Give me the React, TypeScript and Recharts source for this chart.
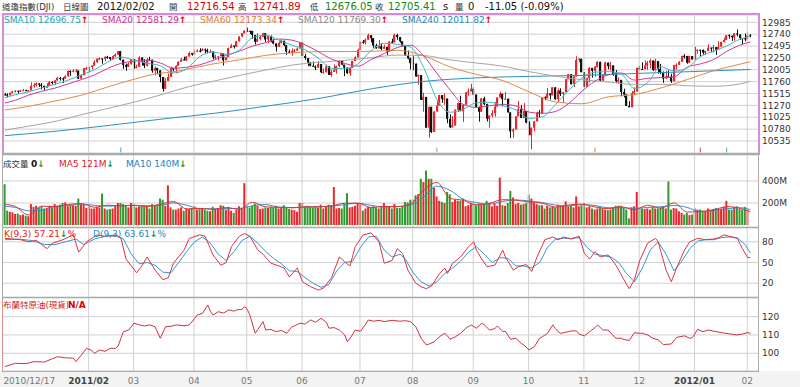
import React from "react";
import {
  ComposedChart,
  Bar,
  Line,
  XAxis,
  YAxis,
  CartesianGrid,
  ReferenceLine,
  Cell,
} from "recharts";

// daily candles [open, high, low, close], 2010/12/17 .. 2012/02/02
const candles: number[][] = [
  [11499,11523,11470,11492],[11492,11520,11440,11478],[11478,11536,11478,11533],[11533,11563,11520,11559],[11559,11580,11537,11573],
  [11573,11573,11509,11555],[11555,11594,11547,11575],[11575,11611,11575,11585],[11585,11595,11560,11569],[11569,11587,11543,11578],
  [11578,11743,11578,11671],[11671,11732,11635,11691],[11691,11743,11658,11722],[11722,11730,11650,11697],[11697,11728,11599,11675],
  [11675,11675,11587,11637],[11637,11727,11637,11671],[11671,11770,11671,11755],[11755,11769,11700,11732],[11732,11787,11700,11787],
  [11787,11861,11777,11837],[11837,11858,11783,11825],[11825,11848,11733,11822],[11822,11891,11822,11871],[11871,11990,11862,11980],
  [11980,11995,11880,11977],[11977,12020,11955,11985],[11985,12021,11950,11989],[11989,11989,11812,11823],[11823,11910,11823,11891],
  [11891,12042,11891,12040],[12040,12069,12008,12041],[12041,12067,11952,12062],[12062,12099,12016,12092],[12092,12201,12092,12161],
  [12161,12243,12147,12233],[12233,12262,12208,12239],[12239,12239,12130,12229],[12229,12285,12180,12273],[12273,12293,12233,12268],
  [12268,12268,12190,12226],[12226,12305,12226,12288],[12288,12344,12270,12318],[12318,12391,12313,12391],[12391,12391,12198,12212],
  [12212,12215,12022,12105],[12105,12131,11983,12068],[12068,12164,12068,12130],[12130,12227,12110,12226],[12226,12228,12026,12058],
  [12058,12111,12033,12066],[12066,12283,12066,12258],[12258,12258,12092,12170],[12170,12223,12038,12090],[12090,12250,12072,12214],
  [12214,12273,12198,12213],[12213,12213,11945,11985],[11985,12075,11891,12044],[12044,12044,11913,11993],[11993,11993,11746,11855],
  [11855,11855,11555,11613],[11613,11832,11613,11775],[11775,11927,11775,11858],[11858,12072,11858,12036],[12036,12044,11975,12018],
  [12018,12097,11935,12086],[12086,12175,12086,12171],[12171,12249,12171,12220],[12220,12275,12197,12198],[12198,12288,12182,12279],
  [12279,12380,12279,12350],[12350,12350,12297,12320],[12320,12419,12320,12376],[12376,12425,12369,12400],[12400,12450,12364,12393],
  [12393,12451,12393,12426],[12426,12445,12339,12409],[12409,12441,12345,12380],[12380,12425,12356,12381],[12381,12381,12222,12263],
  [12263,12311,12227,12270],[12270,12285,12195,12285],[12285,12360,12285,12342],[12342,12342,12093,12202],[12202,12267,12200,12267],
  [12267,12464,12267,12453],[12453,12540,12453,12506],[12506,12506,12444,12480],[12480,12602,12480,12595],[12595,12697,12589,12691],
  [12691,12763,12679,12763],[12763,12821,12753,12811],[12811,12876,12785,12808],[12808,12814,12741,12807],[12807,12807,12644,12724],
  [12724,12724,12526,12584],[12584,12763,12584,12639],[12639,12703,12615,12685],[12685,12768,12685,12760],[12760,12760,12581,12630],
  [12630,12707,12556,12696],[12696,12715,12574,12596],[12596,12644,12531,12548],[12548,12548,12381,12479],[12479,12592,12479,12561],
  [12561,12632,12549,12605],[12605,12605,12493,12513],[12513,12513,12310,12381],[12381,12421,12349,12356],[12356,12446,12293,12395],
  [12395,12434,12356,12403],[12403,12463,12403,12442],[12442,12578,12442,12570],[12570,12570,12283,12290],[12290,12333,12211,12248],
  [12248,12248,12080,12151],[12151,12168,12074,12090],[12090,12177,12070,12070],[12070,12094,11998,12049],[12049,12184,12049,12124],
  [12124,12124,11939,11952],[11952,12029,11929,11953],[11953,12111,11953,12076],[12076,12076,11897,11898],[11898,11999,11862,11962],
  [11962,12117,11962,12004],[12004,12092,11924,12081],[12081,12203,12057,12191],[12191,12191,12109,12110],[12110,12110,11874,12050],
  [12050,12052,11916,11934],[11934,12065,11884,12043],[12043,12189,12043,12188],[12188,12284,12188,12262],[12262,12443,12262,12414],
  [12414,12588,12412,12582],[12582,12619,12546,12569],[12569,12652,12530,12626],[12626,12753,12626,12719],[12719,12719,12569,12657],
  [12657,12657,12458,12505],[12505,12544,12441,12446],[12446,12620,12446,12492],[12492,12555,12406,12437],[12437,12523,12437,12479],
  [12479,12480,12311,12385],[12385,12591,12385,12587],[12587,12648,12557,12571],[12571,12751,12571,12724],[12724,12750,12625,12681],
  [12681,12681,12563,12592],[12592,12592,12489,12501],[12501,12501,12288,12302],[12302,12405,12222,12240],[12240,12254,12011,12143],
  [12143,12285,11994,12132],[12132,12132,11866,11866],[11866,11904,11700,11896],[11896,11896,11383,11384],[11384,11530,11139,11445],
  [11445,11445,10810,10810],[10810,11244,10604,11240],[11240,11240,10700,10720],[10720,11148,10720,11143],[11143,11353,11139,11269],
  [11269,11489,11269,11482],[11482,11482,11320,11406],[11406,11519,11285,11411],[11411,11411,10901,10991],[10991,11087,10803,10818],
  [10818,11052,10816,10855],[10855,11188,10855,11177],[11177,11330,11134,11320],[11320,11471,11149,11150],[11150,11286,10929,11285],
  [11285,11540,11285,11540],[11540,11618,11471,11560],[11560,11716,11560,11614],[11614,11652,11474,11494],[11494,11494,11231,11240],
  [11240,11240,10935,11140],[11140,11415,11140,11415],[11415,11450,11277,11296],[11296,11304,10937,10993],[10993,11063,10816,11062],
  [11062,11171,11025,11106],[11106,11340,11037,11247],[11247,11434,11247,11434],[11434,11553,11434,11510],[11510,11510,11251,11402],
  [11402,11548,11384,11409],[11409,11409,11125,11125],[11125,11125,10597,10734],[10734,10798,10598,10772],[10772,11044,10772,11044],
  [11044,11362,11044,11191],[11191,11276,11009,11011],[11011,11316,11011,11154],[11154,11154,10899,10913],[10913,10943,10655,10655],
  [10655,10813,10362,10809],[10809,10953,10738,10940],[10940,11137,10940,11123],[11123,11178,11016,11103],[11103,11433,11103,11433],
  [11433,11458,11375,11416],[11416,11629,11416,11519],[11519,11519,11391,11478],[11478,11644,11478,11644],[11644,11644,11382,11397],
  [11397,11621,11337,11577],[11577,11624,11463,11505],[11505,11547,11319,11541],[11541,11818,11541,11809],[11809,11916,11809,11913],
  [11913,11913,11703,11706],[11706,11874,11648,11869],[11869,12284,11869,12209],[12209,12247,12164,12231],[12231,12231,11955,11955],
  [11955,11955,11643,11658],[11658,11843,11658,11836],[11836,12057,11742,12044],[12044,12044,11843,11983],[11983,12082,11865,12069],
  [12069,12186,12049,12170],[12170,12170,11771,11781],[11781,11918,11781,11894],[11894,12172,11894,12153],[12153,12153,12013,12079],
  [12079,12168,11988,12096],[12096,12096,11880,11906],[11906,12000,11738,11770],[11770,11846,11716,11796],[11796,11796,11458,11547],
  [11547,11614,11434,11494],[11494,11494,11257,11257],[11257,11358,11231,11231],[11231,11565,11231,11523],[11523,11642,11493,11556],
  [11556,12046,11556,12046],[12046,12090,11993,12020],[12020,12160,12013,12019],[12019,12199,12019,12098],[12098,12185,12006,12150],
  [12150,12232,12034,12196],[12196,12196,11979,11997],[11997,12233,11997,12184],[12184,12184,11927,12021],[12021,12125,11914,11955],
  [11955,11972,11736,11823],[11823,11985,11823,11868],[11868,11992,11866,11866],[11866,11923,11736,11766],[11766,12106,11766,12103],
  [12103,12137,12007,12107],[12107,12185,12107,12169],[12169,12294,12169,12294],[12294,12330,12237,12291],[12291,12291,12130,12151],
  [12151,12295,12151,12288],[12288,12288,12217,12218],[12218,12479,12218,12397],[12397,12428,12337,12418],[12418,12418,12281,12415],
  [12415,12427,12316,12360],[12360,12398,12311,12392],[12392,12531,12392,12462],[12462,12462,12367,12449],[12449,12517,12365,12471],
  [12471,12471,12314,12422],[12422,12595,12422,12482],[12482,12588,12482,12579],[12579,12667,12571,12623],[12623,12724,12621,12720],
  [12720,12738,12648,12708],[12708,12708,12601,12675],[12675,12759,12606,12757],[12757,12841,12694,12734],[12734,12734,12621,12660],
  [12660,12660,12537,12654],[12654,12754,12595,12633],[12633,12792,12633,12717],[12717,12742,12676,12705],
];

// volume, millions
const volumes = [
  370,130,120,115,100,105,90,95,85,80, 190,165,175,160,170,150,155,175,160,190,
  175,185,200,205,170,185,180,175,240,190, 185,155,165,150,150,165,160,285,150,140,
  145,150,170,200,200,190,175,160,200,180, 160,170,175,170,165,150,190,175,185,240,
  230,175,360,160,140,140,150,160,130,150, 145,155,170,140,145,150,140,130,125,165,
  145,150,180,175,140,165,130,110,140,170, 150,380,170,160,175,195,175,145,150,160,
  155,165,160,175,150,155,180,160,145,140, 135,120,200,200,170,175,165,160,170,160,
  185,150,165,185,180,345,150,155,150,190, 290,160,165,175,200,190,130,150,165,160,
  170,160,150,165,200,165,170,150,190,155, 155,165,210,205,230,230,270,280,420,390,
  495,420,420,340,260,220,210,200,300,280, 210,230,220,220,240,170,180,200,190,180,
  195,185,190,220,200,170,195,175,430,180, 175,200,310,250,190,200,185,190,200,275,
  240,200,190,180,180,150,175,160,170,160, 185,165,175,215,170,175,160,260,170,180,
  200,160,170,150,140,150,170,150,140,135, 140,160,175,175,175,160,140,60,160,170,
  300,150,150,145,150,140,165,150,150,160, 165,150,395,140,155,150,125,110,95,110,
  90,95,150,140,140,130,120,150,140,145, 155,145,150,165,220,140,140,165,170,145,
  140,165,140,0,
];

// moving averages: [day index, value]
const sma10Pts = [[0,11423],[4,11491],[9,11550],[14,11632],[19,11704],[24,11792],[29,11900],[34,12006],[39,12164],[44,12268],[49,12202],[54,12139],[59,12089],[64,11939],[69,12025],[74,12279],[79,12370],[84,12323],[89,12409],[94,12664],[99,12721],[104,12618],[109,12513],[114,12420],[119,12244],[124,12033],[129,12028],[134,12128],[139,12399],[144,12551],[149,12531],[154,12473],[159,12050],[164,11391],[169,11129],[174,11190],[179,11324],[184,11335],[189,11261],[194,11178],[199,11001],[204,11033],[209,11286],[214,11580],[219,11832],[224,11956],[229,11967],[234,11919],[239,11618],[244,11739],[249,12069],[254,11978],[259,12044],[264,12275],[269,12387],[274,12496],[279,12636],[283,12697]];
const sma20Pts = [[0,11320],[4,11376],[9,11481],[14,11561],[19,11627],[24,11712],[29,11802],[34,11899],[39,12032],[44,12137],[49,12183],[54,12203],[59,12146],[64,12039],[69,12057],[74,12109],[79,12198],[84,12301],[89,12389],[94,12493],[99,12565],[104,12641],[109,12617],[114,12519],[119,12378],[124,12226],[129,12136],[134,12080],[139,12214],[144,12339],[149,12465],[154,12512],[159,12290],[164,11932],[169,11590],[174,11290],[179,11226],[184,11262],[189,11292],[194,11257],[199,11131],[204,11106],[209,11144],[214,11307],[219,11559],[224,11768],[229,11899],[234,11938],[239,11792],[244,11829],[249,11843],[254,11859],[259,12056],[264,12126],[269,12215],[274,12385],[279,12512],[283,12581]];
const sma60Pts = [[0,11175],[9,11250],[19,11360],[29,11480],[39,11650],[49,11810],[59,11935],[64,11962],[69,12014],[79,12125],[89,12210],[99,12303],[109,12355],[119,12380],[129,12381],[139,12386],[149,12406],[159,12294],[169,12063],[179,11910],[189,11782],[199,11549],[209,11342],[219,11305],[229,11445],[239,11494],[249,11629],[259,11802],[269,11986],[279,12120],[283,12173]];
const sma120Pts = [[0,10760],[10,10850],[20,10950],[30,11090],[40,11220],[50,11350],[60,11500],[70,11660],[80,11780],[90,11900],[100,12010],[110,12110],[119,12158],[129,12200],[139,12255],[149,12308],[159,12298],[169,12209],[179,12145],[189,12081],[199,11967],[209,11874],[219,11800],[229,11754],[239,11702],[249,11705],[259,11676],[269,11664],[279,11713],[283,11769]];
const sma240Pts = [[0,10645],[20,10740],[40,10860],[60,10990],[80,11110],[100,11260],[120,11420],[140,11620],[160,11770],[180,11840],[200,11870],[220,11890],[240,11930],[260,11966],[283,12012]];

const volMa5Pts = [[0,190],[4,167],[9,91],[14,172],[19,166],[24,187],[29,194],[34,161],[39,180],[44,173],[49,181],[54,168],[59,188],[64,213],[69,146],[74,151],[79,142],[84,158],[89,143],[94,207],[99,165],[104,161],[109,156],[114,165],[119,166],[124,173],[129,198],[134,198],[139,159],[144,169],[149,166],[154,193],[159,318],[164,387],[169,242],[174,224],[179,184],[184,198],[189,230],[194,225],[199,210],[204,198],[209,163],[214,182],[219,189],[224,164],[229,149],[234,165],[239,138],[244,179],[249,153],[254,201],[259,118],[264,123],[269,137],[274,167],[279,152],[283,121]];
const volMa10Pts = [[0,170],[4,160],[9,129],[14,132],[19,169],[24,177],[29,191],[34,178],[39,171],[44,177],[49,177],[54,175],[59,178],[64,201],[69,180],[74,149],[79,147],[84,150],[89,151],[94,175],[99,186],[104,163],[109,159],[114,161],[119,166],[124,170],[129,186],[134,198],[139,179],[144,164],[149,168],[154,180],[159,256],[164,353],[169,315],[174,233],[179,204],[184,191],[189,214],[194,228],[199,218],[204,204],[209,181],[214,173],[219,186],[224,177],[229,157],[234,157],[239,152],[244,159],[249,166],[254,177],[259,160],[264,121],[269,130],[274,147],[279,157],[283,140]];

const kPts = [[0,85],[3,84],[6,83],[9,80],[12,82],[16,70],[18,78],[22,83],[26,90],[28,65],[31,80],[35,90],[38,88],[42,90],[44,86],[46,55],[50,35],[52,45],[54,58],[57,39],[60,25],[62,28],[64,49],[68,68],[70,85],[74,90],[76,88],[79,61],[82,46],[84,50],[86,73],[89,88],[91,92],[93,88],[96,68],[98,62],[101,49],[104,45],[106,42],[108,29],[111,42],[113,22],[116,15],[119,10],[121,13],[124,28],[127,58],[129,51],[131,45],[133,73],[136,90],[139,93],[142,80],[144,49],[147,53],[149,70],[151,63],[153,39],[156,20],[158,15],[160,12],[162,16],[165,34],[167,42],[168,34],[170,49],[173,58],[176,73],[178,80],[179,68],[181,55],[183,44],[186,46],[189,68],[190,58],[193,39],[195,44],[198,47],[200,37],[202,58],[205,83],[208,87],[210,83],[212,87],[215,84],[218,88],[220,63],[222,55],[224,66],[226,58],[229,61],[232,46],[235,25],[237,12],[239,25],[241,53],[244,78],[247,85],[248,80],[251,39],[253,22],[255,42],[258,68],[260,80],[263,85],[266,83],[269,84],[271,86],[273,90],[276,87],[278,85],[280,70],[282,57],[283,57.21]];
const dPts = [[0,83],[5,84],[10,82],[15,76],[19,76],[23,80],[27,84],[30,76],[34,84],[38,88],[42,89],[45,84],[48,62],[51,48],[54,50],[57,46],[60,36],[63,35],[66,50],[69,66],[72,80],[75,87],[78,78],[81,62],[84,53],[87,66],[90,82],[93,88],[96,78],[99,66],[102,56],[105,48],[108,38],[111,37],[114,28],[117,20],[120,14],[123,18],[126,38],[129,50],[132,52],[135,72],[138,87],[141,88],[144,68],[147,58],[150,62],[152,55],[155,35],[158,22],[161,16],[164,22],[167,34],[170,42],[173,52],[176,65],[179,73],[182,62],[185,50],[188,57],[191,56],[194,45],[197,45],[200,42],[203,50],[206,72],[209,84],[212,85],[215,85],[218,86],[221,72],[224,62],[227,60],[230,58],[233,50],[236,34],[239,22],[242,42],[245,68],[248,80],[251,62],[254,38],[257,52],[260,70],[263,81],[266,83],[269,83],[272,86],[275,87],[278,86],[281,76],[283,63.61]];

// Brent spot
const oilPts = [[0,92.7],[4,94.5],[8,94.3],[11,95.4],[15,95.2],[18,97],[20,98.1],[23,97.5],[26,97.3],[27,95.4],[29,99],[31,102.7],[33,101.5],[34,100],[36,101.8],[38,101],[40,102.7],[42,102.7],[43,104],[44,108],[45,111.8],[47,112.7],[49,116.4],[51,115.5],[53,114.9],[55,115.5],[57,114.5],[59,108.2],[61,114.5],[63,114.7],[65,115.5],[68,115],[70,115.5],[72,119],[73,120.9],[75,121.8],[77,126.4],[78,123],[79,120.9],[81,122.7],[83,122],[85,123.7],[87,123],[88,123.7],[90,124],[91,125.5],[92,124],[93,120.9],[95,110.9],[96,113],[98,117.3],[99,112.7],[101,113],[103,111.8],[105,112.5],[107,110.9],[109,114.5],[110,115],[112,116.4],[114,116],[116,118.2],[118,117],[120,119.1],[122,117],[123,113.7],[125,114],[127,112.7],[129,110],[130,106.3],[131,108],[133,112.7],[135,112],[137,116],[138,118.2],[140,117.5],[142,118],[144,117.3],[147,118],[150,117.5],[152,117.8],[154,117.3],[156,114.5],[158,108.2],[160,104.5],[161,105],[163,106.3],[165,109.1],[167,110.9],[168,109.5],[169,107.6],[171,109],[173,110.9],[175,113.7],[177,115.5],[179,113.7],[181,116.4],[182,115.5],[184,112.7],[186,113.5],[187,114.9],[189,111.8],[190,112],[192,107.6],[194,108.2],[196,105.4],[197,104.5],[199,101.8],[201,103.6],[203,108.2],[204,109],[206,110.9],[208,115.5],[209,113.5],[210,111.8],[211,110.9],[213,111.5],[215,112.2],[217,112.2],[218,110.5],[220,109.5],[222,111.8],[224,114],[225,115.5],[227,112.7],[229,112.7],[230,111],[232,108.2],[234,108.2],[235,107.5],[237,107],[239,111.3],[240,111],[242,110.9],[244,110],[246,108.2],[248,107.3],[249,106],[250,104.7],[253,105.1],[255,108.7],[258,109.5],[260,108.2],[261,108.5],[263,113.1],[265,111.8],[267,112.7],[270,111.8],[272,111.3],[275,110.6],[278,110],[280,110.5],[282,111.3],[283,110.9]];

const priceTicks = [10535, 10780, 11025, 11270, 11515, 11760, 12005, 12250, 12495, 12740, 12985];
const volTicks = [200, 400];
const kdTicks = [20, 50, 80];
const oilTicks = [100, 110, 120];
const monthTicks = [31.8, 48.8, 71.8, 91.8, 112.8, 134.8, 154.8, 177.8, 198.8, 219.8, 240.8, 261.8, 281.8];
const monthLabels = ["2011/02", "03", "04", "05", "06", "07", "08", "09", "10", "11", "12", "2012/01", "02"];
const markers = [[44, "#3aaad0"], [164, "#999999"], [224, "#e08040"], [264, "#cc3399"], [274, "#33bbbb"]] as const;

const RED = "#e8262b";
const GREEN = "#2e9a2e";
const GRID = "#d0d0d0";
const FONT = "'DejaVu Sans', 'Noto Sans CJK TC', sans-serif";
const X_DOMAIN: [number, number] = [-0.72, 285.9];

const lookup = (pts: readonly (readonly number[])[]) => {
  const m = new Map<number, number>();
  pts.forEach(([i, v]) => m.set(i, v));
  return (i: number) => (m.has(i) ? (m.get(i) as number) : null);
};
const s10 = lookup(sma10Pts), s20 = lookup(sma20Pts), s60 = lookup(sma60Pts);
const s120 = lookup(sma120Pts), s240 = lookup(sma240Pts);
const vm5 = lookup(volMa5Pts), vm10 = lookup(volMa10Pts);
const kk = lookup(kPts), dd = lookup(dPts), oo = lookup(oilPts);

const rows = candles.map(([o, h, l, c], i) => ({
  i, o, c, range: [l, h],
  vol: volumes[i],
  sma10: s10(i), sma20: s20(i), sma60: s60(i), sma120: s120(i), sma240: s240(i),
  vma5: vm5(i), vma10: vm10(i),
  k: kk(i), d: dd(i), oil: oo(i),
}));

const Candle = (p: any) => {
  const { x, y, width, height, payload } = p;
  const [lo, hi] = payload.range;
  const span = hi - lo || 1;
  const yOf = (v: number) => y + ((hi - v) / span) * height;
  const up = payload.c >= payload.o;
  const col = up ? RED : "#111";
  const top = yOf(Math.max(payload.o, payload.c));
  const bot = yOf(Math.min(payload.o, payload.c));
  const cx = Math.round(x + width / 2) + 0.5;
  return (
    <g>
      <line x1={cx} x2={cx} y1={y} y2={y + height} stroke={col} strokeWidth={1} />
      <rect x={cx - 1.5} y={top} width={2.2} height={Math.max(1, bot - top)} fill={col} />
    </g>
  );
};

const XTick = (p: any) => {
  const { x, y, payload } = p;
  if (payload.value === 0) {
    return <text x={x - 1.5} y={y + 13} fontSize={9} fill="#777" fontFamily={FONT}>2010/12/17</text>;
  }
  const lab = monthLabels[monthTicks.indexOf(payload.value)];
  const bold = lab.length > 2;
  return (
    <text x={x} y={y + 13} fontSize={9} textAnchor="middle" fill={bold ? "#444" : "#777"} fontWeight={bold ? "bold" : "normal"} fontFamily={FONT}>
      {lab}
    </text>
  );
};

const tickStyle = { fontSize: 9, fill: "#333", fontFamily: FONT };

const Txt = ({ x, y, c = "#333", s = 9, b = false, children }: any) => (
  <span style={{ position: "absolute", left: x, top: y, color: c, fontSize: s, fontWeight: b ? "bold" : "normal", whiteSpace: "nowrap", lineHeight: 1 }}>
    {children}
  </span>
);
const Up = () => <span style={{ color: "#e00000", fontWeight: "bold" }}>↑</span>;
const Dn = () => <span style={{ color: "#1a9a1a", fontWeight: "bold" }}>↓</span>;

const monthLines = () =>
  monthTicks.map((t) => <ReferenceLine key={t} x={t} stroke={GRID} strokeWidth={1} />);

const axisX = <XAxis type="number" dataKey="i" domain={X_DOMAIN} hide allowDataOverflow />;

export default function App() {
  const W = 800;
  const margin = { top: 0, right: 0, bottom: 0, left: 3 };
  return (
    <div style={{ position: "fixed", left: 0, top: 0, width: 800, height: 387, background: "#fff", fontFamily: FONT, overflow: "hidden" }}>
      <div style={{ position: "absolute", left: 0, top: 371, width: 800, height: 16, background: "#f3f3f3" }} />

      {/* header */}
      <Txt x={2} y={3} s={8.5}>道瓊指數(DJI)</Txt>
      <Txt x={63} y={3} s={8.5}>日線圖</Txt>
      <Txt x={97} y={2} s={10} c="#111">2012/02/02</Txt>
      <Txt x={169} y={3} s={8.5}>開</Txt>
      <Txt x={187} y={2} s={10} c="#dd0000">12716.54</Txt>
      <Txt x={238} y={3} s={8.5}>高</Txt>
      <Txt x={253} y={2} s={10} c="#dd0000">12741.89</Txt>
      <Txt x={310} y={3} s={8.5}>低</Txt>
      <Txt x={325} y={2} s={10} c="#118811">12676.05</Txt>
      <Txt x={375} y={3} s={8.5}>收</Txt>
      <Txt x={388} y={2} s={10} c="#118811">12705.41</Txt>
      <Txt x={443} y={2} s={10} c="#111">s</Txt>
      <Txt x={455} y={3} s={8.5}>量</Txt>
      <Txt x={468} y={2} s={10} c="#111">0</Txt>
      <Txt x={485} y={2} s={10} c="#111">-11.05 (-0.09%)</Txt>

      {/* price panel */}
      <div style={{ position: "absolute", top: 15 }}>
        <ComposedChart width={W} height={138} data={rows} margin={margin}>
          <CartesianGrid horizontal vertical={false} stroke={GRID} />
          {axisX}
          <YAxis orientation="right" width={42} domain={[10287, 13136]} ticks={priceTicks} tick={tickStyle} tickLine={false} axisLine={false} tickSize={2} tickMargin={2} interval={0} allowDataOverflow />
          {monthLines()}
          {markers.map(([i, c]) => (
            <ReferenceLine key={i} segment={[{ x: i, y: 10300 }, { x: i, y: 10400 }]} stroke={c} strokeWidth={1} />
          ))}
          <Line dataKey="sma240" stroke="#2f8fc0" strokeWidth={1} dot={false} connectNulls type="monotone" isAnimationActive={false} />
          <Line dataKey="sma120" stroke="#a6a6a6" strokeWidth={1} dot={false} connectNulls type="monotone" isAnimationActive={false} />
          <Line dataKey="sma60" stroke="#e08a4a" strokeWidth={1} dot={false} connectNulls type="monotone" isAnimationActive={false} />
          <Bar dataKey="range" barSize={2} shape={<Candle />} isAnimationActive={false} />
          <Line dataKey="sma20" stroke="#c83c9a" strokeWidth={1} dot={false} connectNulls type="monotone" isAnimationActive={false} />
          <Line dataKey="sma10" stroke="#3cbcbc" strokeWidth={1} dot={false} connectNulls type="monotone" isAnimationActive={false} />
        </ComposedChart>
      </div>
      <div style={{ position: "absolute", left: 2, top: 13, width: 758, height: 142, border: "2px solid #d78cd7", boxSizing: "border-box" }} />
      <Txt x={4} y={16} c="#22a8b0">SMA10 12696.75<Up /></Txt>
      <Txt x={102} y={16} c="#cc2f8f">SMA20 12581.29<Up /></Txt>
      <Txt x={200} y={16} c="#e07a3a">SMA60 12173.34<Up /></Txt>
      <Txt x={298} y={16} c="#8a8a8a">SMA120 11769.30<Up /></Txt>
      <Txt x={402} y={16} c="#2a8ab8">SMA240 12011.82<Up /></Txt>

      {/* volume panel */}
      <div style={{ position: "absolute", top: 155 }}>
        <ComposedChart width={W} height={72} data={rows} margin={margin}>
          <CartesianGrid horizontal vertical={false} stroke={GRID} />
          {axisX}
          <YAxis orientation="right" width={42} domain={[-18, 636]} ticks={volTicks} tickFormatter={(v: number) => `${v}M`} tick={tickStyle} tickLine={false} axisLine={false} tickSize={2} tickMargin={2} interval={0} allowDataOverflow />
          {monthLines()}
          <Bar dataKey="vol" barSize={2} isAnimationActive={false}>
            {rows.map((r) => (
              <Cell key={r.i} fill={r.c >= r.o ? RED : GREEN} />
            ))}
          </Bar>
          <Line dataKey="vma10" stroke="#3a8ccc" strokeWidth={1} dot={false} connectNulls type="monotone" isAnimationActive={false} />
          <Line dataKey="vma5" stroke="#dd3333" strokeWidth={1} dot={false} connectNulls type="monotone" isAnimationActive={false} />
        </ComposedChart>
      </div>
      <div style={{ position: "absolute", left: 2, top: 154, width: 757, height: 74, border: "1px solid #aaa", boxSizing: "border-box" }} />
      <Txt x={3} y={160} s={8.5}>成交量</Txt>
      <Txt x={31} y={159.5} c="#111" b>0<Dn /></Txt>
      <Txt x={59} y={159.5} c="#dd2222">MA5 121M<Dn /></Txt>
      <Txt x={126} y={159.5} c="#2a7fc0">MA10 140M<Dn /></Txt>

      {/* KD panel */}
      <div style={{ position: "absolute", top: 228 }}>
        <ComposedChart width={W} height={69} data={rows} margin={margin}>
          <CartesianGrid horizontal vertical={false} stroke={GRID} />
          {axisX}
          <YAxis orientation="right" width={42} domain={[0, 100]} ticks={kdTicks} tick={tickStyle} tickLine={false} axisLine={false} tickSize={2} tickMargin={2} interval={0} allowDataOverflow />
          {monthLines()}
          <Line dataKey="d" stroke="#3a96c8" strokeWidth={1} dot={false} connectNulls type="linear" isAnimationActive={false} />
          <Line dataKey="k" stroke="#dd3344" strokeWidth={1} dot={false} connectNulls type="linear" isAnimationActive={false} />
        </ComposedChart>
      </div>
      <div style={{ position: "absolute", left: 2, top: 227, width: 757, height: 71, border: "1px solid #aaa", boxSizing: "border-box" }} />
      <Txt x={4} y={230} c="#dd2222">K(9,3) 57.21<Dn />%</Txt>
      <Txt x={93} y={230} c="#2a8ab8">D(9,3) 63.61<Dn />%</Txt>

      {/* oil panel */}
      <div style={{ position: "absolute", top: 298 }}>
        <ComposedChart width={W} height={89} data={rows} margin={margin}>
          <CartesianGrid horizontal vertical={false} stroke={GRID} />
          <XAxis type="number" dataKey="i" domain={X_DOMAIN} ticks={[0, ...monthTicks]} tick={<XTick />} tickLine={false} axisLine={false} height={16} tickSize={0} tickMargin={0} interval={0} allowDataOverflow />
          <YAxis orientation="right" width={42} domain={[90.3, 130.2]} ticks={oilTicks} tick={tickStyle} tickLine={false} axisLine={false} tickSize={2} tickMargin={2} interval={0} allowDataOverflow />
          {monthLines()}
          <Line dataKey="oil" stroke="#cc3344" strokeWidth={1} dot={false} connectNulls type="linear" isAnimationActive={false} />
        </ComposedChart>
      </div>
      <div style={{ position: "absolute", left: 2, top: 297, width: 757, height: 75, border: "1px solid #aaa", borderLeft: "1px solid #e09090", boxSizing: "border-box" }} />
      <Txt x={3} y={301} s={8.5} c="#cc2222">布蘭特原油(現貨)</Txt>
      <Txt x={68} y={300.5} c="#dd0000" b>N/A</Txt>
    </div>
  );
}
